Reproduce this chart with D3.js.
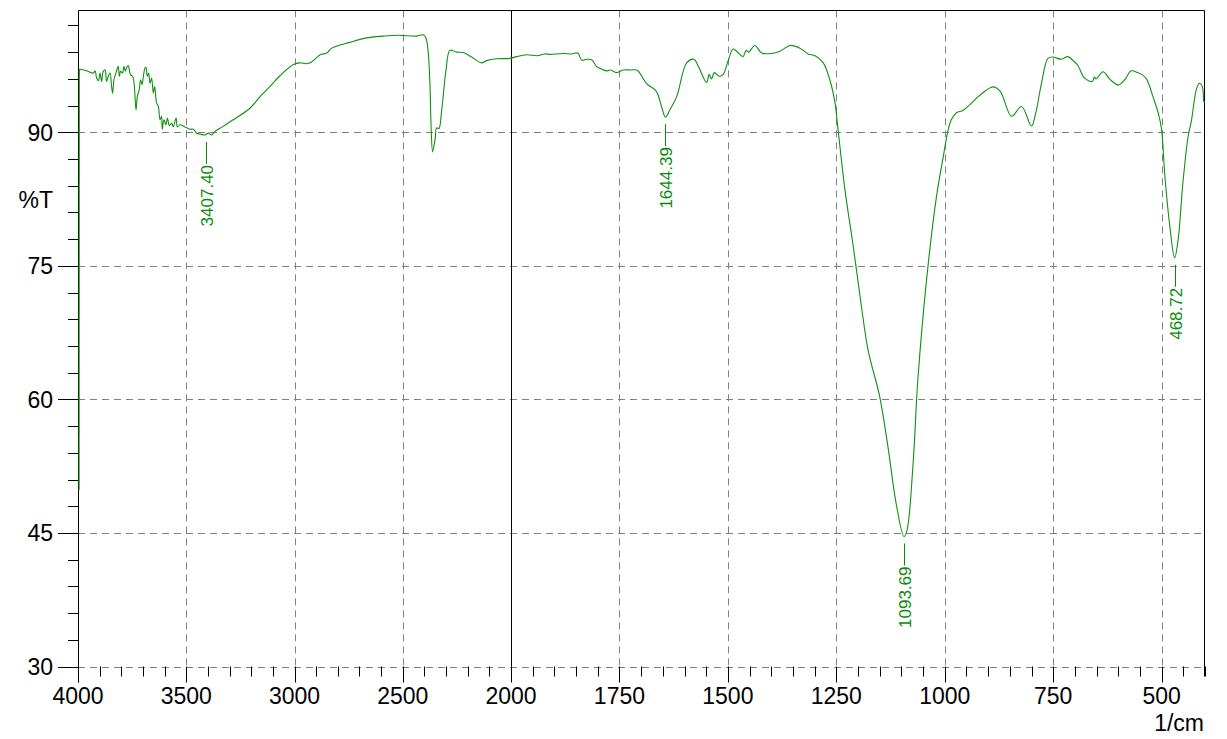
<!DOCTYPE html>
<html>
<head>
<meta charset="utf-8">
<script src="https://cdn.jsdelivr.net/npm/d3@7"></script>
<style>
  html, body { margin: 0; padding: 0; background: #fff; }
  svg { display: block; }
  text { font-family: Arial, "Liberation Sans", sans-serif; }
</style>
</head>
<body>
<svg id="chart" width="1227" height="739"></svg>
<script>
// ---- data ----
const wavenumber = [
  3995, 3994, 3960, 3929, 3921, 3914, 3906, 3898, 3891, 3883, 3875, 3868, 3860, 3852, 3845, 3840, 3834, 3825,
  3818, 3814, 3809, 3803, 3794, 3788, 3781, 3775, 3768, 3763, 3757, 3748, 3741, 3732, 3726,
  3717, 3711, 3704, 3698, 3691, 3686, 3680, 3674, 3667, 3660, 3652, 3646, 3637, 3629, 3621,
  3614, 3611, 3603, 3594, 3587, 3578, 3567, 3560, 3547, 3541, 3529, 3506, 3483, 3467, 3452,
  3437, 3413, 3398, 3383, 3367, 3344, 3283, 3206, 3159, 3113, 3067, 3005, 2975, 2944, 2921,
  2882, 2851, 2828, 2744, 2667, 2590, 2521, 2436, 2405, 2393, 2382, 2374, 2369, 2362, 2351,
  2343, 2333, 2320, 2300, 2282, 2251, 2221, 2182, 2136, 2113, 2066, 2005,
  1987, 1964, 1940, 1922, 1910, 1880, 1860, 1846, 1837, 1825, 1814, 1803, 1795, 1780, 1770,
  1757, 1741, 1725, 1710, 1703, 1688, 1665, 1653, 1644, 1634, 1618, 1595, 1578, 1568, 1549,
  1543, 1538, 1531, 1520, 1511, 1499, 1488, 1480, 1465, 1458, 1452, 1438, 1422, 1400, 1380,
  1357, 1334, 1315, 1299, 1280, 1265, 1253, 1246, 1230, 1211, 1192, 1177, 1150, 1131, 1112,
  1094, 1087, 1073, 1062, 1042, 1019, 1004, 992, 985, 973, 958, 942, 923, 905, 889,
  872, 846, 823, 800, 790, 777, 762, 751, 731, 716, 705, 693, 678, 660, 655,
  651, 635, 620, 600, 585, 570, 555, 546, 535, 520, 508, 500, 493, 481, 470,
  462, 451, 439, 431, 420, 413, 406, 403, 401
];
const transmittance = [
  49.8, 97.1, 96.9, 96.65, 96.9, 96.1, 95.8, 96.65, 95.7, 96.85, 97.0, 95.7, 96.3, 96.65, 95.15, 94.4, 95.9, 96.65,
  97.2, 97.4, 96.3, 96.85, 96.65, 97.4, 96.85, 97.3, 97.5, 97.0, 96.45, 96.3, 95.5, 92.5, 94.0,
  94.8, 95.9, 95.35, 96.3, 97.2, 97.3, 96.3, 96.65, 95.5, 96.1, 94.4, 95.15, 93.3, 92.9, 91.4,
  91.8, 90.35, 91.4, 90.85, 91.6, 90.75, 91.05, 90.6, 91.6, 90.6, 90.85, 90.6, 90.35, 90.35, 89.9,
  89.8, 89.7, 89.9, 89.7, 90.1, 90.45, 91.4, 92.7, 94.0, 95.15, 96.35, 97.6, 97.8, 97.7, 97.9,
  98.7, 98.9, 99.45, 100.1, 100.6, 100.8, 100.9, 100.8, 100.95, 100.6, 98.9, 95.1, 90.65, 87.8, 89.2,
  90.5, 90.4, 92.5, 97.0, 99.2, 99.0, 98.95, 98.45, 97.8, 98.05, 98.25, 98.3,
  98.5, 98.7, 98.6, 98.8, 98.75, 98.85, 98.8, 98.9, 98.1, 98.2, 98.15, 97.4, 97.2, 96.9, 97.0,
  96.7, 97.0, 97.0, 97.0, 96.65, 95.5, 94.6, 92.9, 91.7, 92.5, 94.0, 97.8, 98.2, 97.4, 95.6,
  96.5, 96.0, 96.7, 96.3, 96.5, 98.1, 99.35, 99.1, 98.5, 99.2, 99.0, 99.75, 98.9, 98.85, 99.1,
  99.75, 99.45, 98.8, 98.6, 97.8, 95.9, 93.3, 90.3, 83.5, 77.2, 70.4, 65.6, 60.3, 54.7, 48.3,
  44.6, 45.3, 52.8, 62.2, 73.4, 82.8, 87.1, 90.3, 91.4, 92.2, 92.45, 93.1, 94.0, 94.7, 95.1,
  94.6, 91.8, 92.9, 90.7, 92.2, 95.5, 98.3, 98.45, 98.2, 98.5, 98.1, 97.5, 96.1, 95.7, 96.2,
  96.0, 96.8, 96.0, 95.3, 95.9, 96.9, 96.7, 96.5, 96.0, 94.0, 92.2, 90.3, 85.4, 79.4, 75.9,
  77.9, 84.3, 89.5, 91.4, 94.8, 95.5, 95.1, 93.5, 93.3
];
const peakWn = [3407.40, 1644.39, 1093.69, 468.72];
const peakT = [89.7, 91.7, 44.6, 75.9];
const peakLabels = ["3407.40", "1644.39", "1093.69", "468.72"];
const xMajorTicks = [4000, 3500, 3000, 2500, 2000, 1750, 1500, 1250, 1000, 750, 500];
const yMajorTicks = [30, 45, 60, 75, 90];
const yAxisTitle = "%T";
const xAxisTitle = "1/cm";

// ---- layout ----
const plotLeft = 78, plotRight = 1205, plotTop = 10.3, plotBottom = 666.5;
const svg = d3.select("#chart");

const x = d3.scaleLinear().domain([4000, 2000, 400]).range([plotLeft, 511, plotRight]);
const y = d3.scaleLinear().domain([30, 103.7]).range([plotBottom, plotTop]);

const gridColor = "#808080";
const dash = "7,5";

// horizontal grid lines
svg.append("g").selectAll("line").data(yMajorTicks).join("line")
  .attr("x1", plotLeft).attr("x2", plotRight)
  .attr("y1", d => Math.round(y(d)) + 0.5).attr("y2", d => Math.round(y(d)) + 0.5)
  .attr("stroke", gridColor).attr("stroke-width", 1).attr("stroke-dasharray", dash);

// vertical grid lines
svg.append("g").selectAll("line").data(xMajorTicks.filter(d => d !== 4000 && d !== 2000)).join("line")
  .attr("x1", d => Math.round(x(d)) + 0.5).attr("x2", d => Math.round(x(d)) + 0.5)
  .attr("y1", plotTop).attr("y2", plotBottom)
  .attr("stroke", gridColor).attr("stroke-width", 1).attr("stroke-dasharray", dash);

// solid line at 2000
svg.append("line")
  .attr("x1", Math.round(x(2000)) + 0.5).attr("x2", Math.round(x(2000)) + 0.5)
  .attr("y1", plotTop).attr("y2", plotBottom)
  .attr("stroke", "#000").attr("stroke-width", 1);

// frame: left, top, right
svg.append("path")
  .attr("d", `M${plotLeft + 0.5},${plotBottom + 16} V${Math.round(plotTop) + 0.5} H${plotRight - 0.5} V${plotBottom + 10}`)
  .attr("fill", "none").attr("stroke", "#000").attr("stroke-width", 1);

// Y axis ticks
const yMinor = d3.range(30, 103, 3);
svg.append("g").selectAll("line").data(yMinor).join("line")
  .attr("x1", d => yMajorTicks.includes(d) ? 58 : 68).attr("x2", plotLeft)
  .attr("y1", d => Math.round(y(d)) + 0.5).attr("y2", d => Math.round(y(d)) + 0.5)
  .attr("stroke", "#000").attr("stroke-width", 1);

svg.append("g").selectAll("text").data(yMajorTicks).join("text")
  .attr("x", 53).attr("y", d => y(d)).attr("dy", "0.36em")
  .attr("text-anchor", "end").attr("font-size", 23).attr("fill", "#000")
  .text(d => d);

svg.append("text").attr("x", 53).attr("y", y(82.4)).attr("dy", "0.36em")
  .attr("text-anchor", "end").attr("font-size", 23).attr("fill", "#000")
  .text(yAxisTitle);

// X axis ticks
const xMinor = d3.range(4000, 2000, -100).concat(d3.range(2000, 399, -50));
svg.append("g").selectAll("line").data(xMinor).join("line")
  .attr("x1", d => Math.round(x(d)) + 0.5).attr("x2", d => Math.round(x(d)) + 0.5)
  .attr("y1", plotBottom).attr("y2", d => xMajorTicks.includes(d) ? plotBottom + 16 : plotBottom + 10)
  .attr("stroke", "#000").attr("stroke-width", 1);

svg.append("g").selectAll("text").data(xMajorTicks).join("text")
  .attr("x", d => x(d)).attr("y", 704)
  .attr("text-anchor", "middle").attr("font-size", 23).attr("fill", "#000")
  .text(d => d);

svg.append("text").attr("x", 1204).attr("y", 731)
  .attr("text-anchor", "end").attr("font-size", 23).attr("fill", "#000")
  .text(xAxisTitle);

// spectrum: initial vertical step drawn straight, rest smoothed
const pts = wavenumber.map((w, i) => [w, transmittance[i]]);
const straight = d3.line().x(d => x(d[0])).y(d => y(d[1]));
const smooth = d3.line().x(d => x(d[0])).y(d => y(d[1])).curve(d3.curveCatmullRom.alpha(0.5));
const specColor = "#119011";
svg.append("path").datum(pts.slice(0, 2))
  .attr("d", straight).attr("fill", "none")
  .attr("stroke", specColor).attr("stroke-width", 1.1);
svg.append("path").datum(pts.slice(1))
  .attr("d", smooth).attr("fill", "none")
  .attr("stroke", specColor).attr("stroke-width", 1.1).attr("stroke-linejoin", "round");

// peak labels
const green = "#0a8a0a";
const pk = svg.append("g");
peakWn.forEach((w, i) => {
  const px = Math.round(x(w)) + 0.5;
  const py = y(peakT[i]);
  pk.append("line")
    .attr("x1", px).attr("x2", px).attr("y1", py + 7).attr("y2", py + 29)
    .attr("stroke", green).attr("stroke-width", 1);
  pk.append("text")
    .attr("transform", `translate(${px},${py + 30}) rotate(-90)`)
    .attr("text-anchor", "end").attr("dy", "0.36em")
    .attr("font-size", 17).attr("fill", green)
    .text(peakLabels[i]);
});
</script>
</body>
</html>
